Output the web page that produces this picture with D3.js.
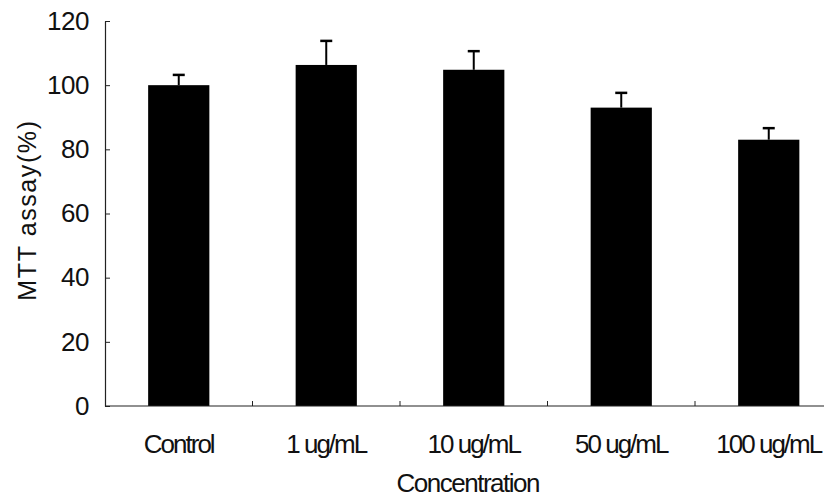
<!DOCTYPE html>
<html><head><meta charset="utf-8">
<script src="https://cdn.jsdelivr.net/npm/d3@7"></script>
<style>body{margin:0;background:#fff}svg{display:block}text{font-family:"Liberation Sans",Arial,sans-serif;fill:#111}</style>
</head><body><svg id="c" width="824" height="500"></svg>
<script>
const categories = ["Control","1 ug/mL","10 ug/mL","50 ug/mL","100 ug/mL"];
const values = [100, 106.3, 104.8, 93, 83];
const errors = [3.2, 7.5, 5.8, 4.6, 3.6];
const yTicks = [0,20,40,60,80,100,120];

(function(){
const svg = d3.select("#c");
const mLeft = 105, mTop = 21, mBottom = 406, band = 147.5;
const x = d3.scaleBand().domain(categories).range([mLeft, mLeft + band*categories.length]).paddingInner(0.585).paddingOuter(0.2925);
const y = d3.scaleLinear().domain([0,120]).range([mBottom, mTop]);

svg.selectAll("rect.bar").data(categories).enter().append("rect")
  .attr("x", d => x(d)).attr("width", x.bandwidth())
  .attr("y", (d,i) => y(values[i])).attr("height", (d,i) => y(0) - y(values[i]))
  .attr("fill", "#000");

const eg = svg.append("g").attr("stroke","#000").attr("stroke-width",2);
categories.forEach((c,i) => {
  const cx = x(c) + x.bandwidth()/2;
  eg.append("line").attr("x1",cx).attr("x2",cx).attr("y1",y(values[i])).attr("y2",y(values[i]+errors[i]));
  eg.append("line").attr("x1",cx-6).attr("x2",cx+6).attr("y1",y(values[i]+errors[i])).attr("y2",y(values[i]+errors[i])).attr("stroke-width",2.5);
});

const ya = svg.append("g").attr("transform",`translate(${mLeft},0)`)
  .call(d3.axisLeft(y).tickValues(yTicks).tickSizeInner(-5).tickSizeOuter(0).tickPadding(16));
ya.select(".domain").attr("stroke","#222").attr("stroke-width",1.2);
ya.selectAll(".tick line").attr("stroke","#222");
ya.selectAll("text").attr("font-family",null).style("font-size","26px").style("letter-spacing","-0.5px").attr("fill","#111");

const xa = svg.append("g").attr("transform",`translate(0,${mBottom})`);
xa.append("line").attr("x1",mLeft).attr("x2",824).attr("y1",0).attr("y2",0).attr("stroke","#222").attr("stroke-width",1.2);
const sep = d3.range(1, categories.length).map(i => mLeft + i*band);
xa.selectAll("line.sep").data(sep).enter().append("line")
  .attr("x1",d=>d).attr("x2",d=>d).attr("y1",0).attr("y2",-5).attr("stroke","#222");
xa.selectAll("text.cat").data(categories).enter().append("text")
  .attr("x", d => x(d) + x.bandwidth()/2).attr("y", 47)
  .attr("text-anchor","middle").style("font-size","26px").style("letter-spacing","-2px").text(d=>d);

svg.append("text").attr("x", mLeft + band*categories.length/2 - 6).attr("y", 492).attr("text-anchor","middle")
  .style("font-size","26px").style("letter-spacing","-1.5px").text("Concentration");
svg.append("text").attr("transform","translate(36,210) rotate(-90)").attr("text-anchor","middle")
  .style("font-size","25px").style("letter-spacing","1.6px").text("MTT assay(%)");
})();
</script></body></html>
